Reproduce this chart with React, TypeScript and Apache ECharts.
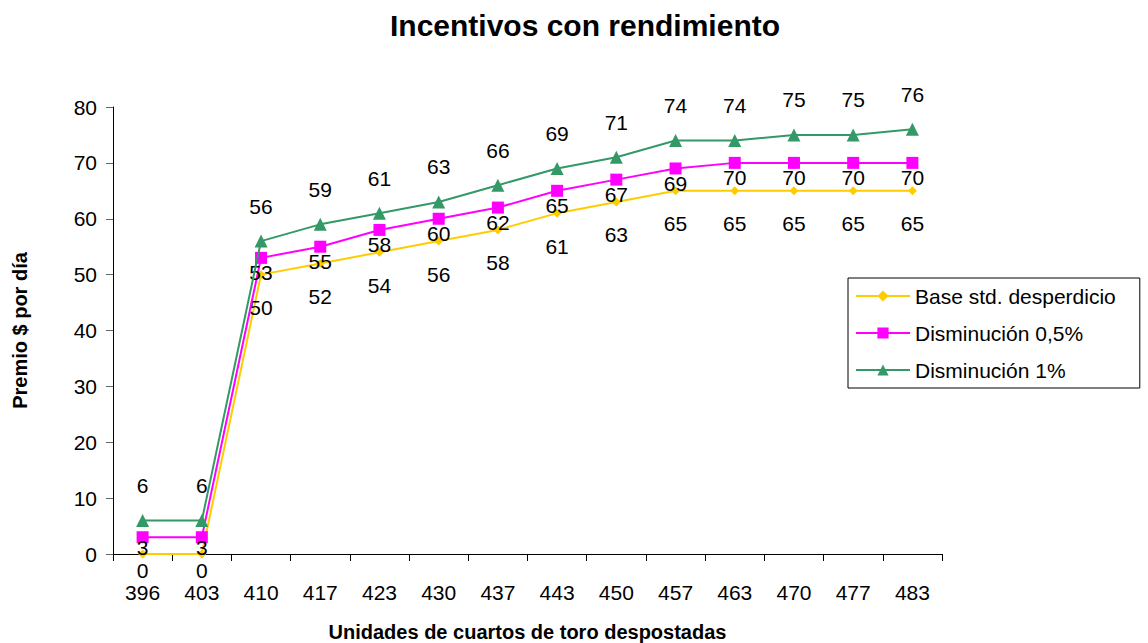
import React, { useEffect, useRef } from "react";
import * as echarts from "echarts";

// Units of bull quarters processed (category axis)
const unidades = ["396", "403", "410", "417", "423", "430", "437", "443", "450", "457", "463", "470", "477", "483"];

// Daily bonus ($) per scenario
const baseStd = [0, 0, 50, 52, 54, 56, 58, 61, 63, 65, 65, 65, 65, 65];
const dism05 = [3, 3, 53, 55, 58, 60, 62, 65, 67, 69, 70, 70, 70, 70];
const dism1 = [6, 6, 56, 59, 61, 63, 66, 69, 71, 74, 74, 75, 75, 76];

const FONT = "'Liberation Sans', Arial, sans-serif";

export default function App() {
  const ref = useRef<HTMLDivElement>(null);

  useEffect(() => {
    if (!ref.current) return;
    const chart = echarts.init(ref.current, null, { renderer: "svg" });

    const label = (dy: number) => ({
      show: true,
      position: "inside" as const,
      offset: [0, dy],
      color: "#000",
      fontSize: 21,
      fontFamily: FONT,
    });

    // the two leading points sit near the axis, so their labels hug the marker
    const withLowLabels = (vals: number[], dy: number) =>
      vals.map((v, i) => (i < 2 ? { value: v, label: { offset: [0, dy] } } : v));

    chart.setOption({
      animation: false,
      backgroundColor: "#fff",
      textStyle: { fontFamily: FONT },
      title: {
        text: "Incentivos con rendimiento",
        left: 580,
        top: 5,
        textAlign: "center",
        textStyle: { fontSize: 30, fontWeight: "bold", color: "#000", fontFamily: FONT },
      },
      legend: {
        orient: "vertical",
        left: 848,
        top: 278,
        padding: [7, 24, 7, 7],
        itemWidth: 54,
        itemHeight: 14,
        itemGap: 15,
        borderColor: "#000",
        borderWidth: 1,
        backgroundColor: "#fff",
        textStyle: { fontSize: 21, lineHeight: 22, color: "#000", fontFamily: FONT },
        data: ["Base std. desperdicio", "Disminución 0,5%", "Disminución 1%"],
      },
      grid: { left: 113, right: 206, top: 107, bottom: 89, containLabel: false, outerBoundsMode: "none" },
      xAxis: {
        type: "category",
        data: unidades,
        boundaryGap: true,
        name: "Unidades de cuartos de toro despostadas",
        nameLocation: "middle",
        nameGap: 68,
        nameTextStyle: { fontSize: 20, fontWeight: "bold", color: "#000", fontFamily: FONT },
        axisLine: { show: true, lineStyle: { color: "#000", width: 1 } },
        axisTick: { show: true, interval: 0, length: 7, lineStyle: { color: "#000" } },
        axisLabel: { fontSize: 21, color: "#000", margin: 28, interval: 0, fontFamily: FONT },
        splitLine: { show: false },
      },
      yAxis: {
        type: "value",
        min: 0,
        max: 80,
        interval: 10,
        name: "Premio $ por día",
        nameLocation: "middle",
        nameGap: 83,
        nameTextStyle: { fontSize: 20, fontWeight: "bold", color: "#000", fontFamily: FONT },
        axisLine: { show: true, lineStyle: { color: "#000", width: 1 } },
        axisTick: { show: true, length: 7, lineStyle: { color: "#666" } },
        axisLabel: { fontSize: 21, color: "#000", margin: 16, fontFamily: FONT },
        splitLine: { show: false },
      },
      series: [
        {
          name: "Base std. desperdicio",
          type: "line",
          data: withLowLabels(baseStd, 16),
          symbol: "diamond",
          symbolSize: 9,
          color: "#FFCC00",
          lineStyle: { color: "#FFCC00", width: 2 },
          itemStyle: { color: "#FFCC00" },
          label: label(33),
          z: 2,
        },
        {
          name: "Disminución 0,5%",
          type: "line",
          data: withLowLabels(dism05, 10),
          symbol: "rect",
          symbolSize: 12,
          color: "#FF00FF",
          lineStyle: { color: "#FF00FF", width: 2 },
          itemStyle: { color: "#FF00FF" },
          label: label(15),
          z: 3,
        },
        {
          name: "Disminución 1%",
          type: "line",
          data: dism1,
          symbol: "triangle",
          symbolSize: 13,
          color: "#339966",
          lineStyle: { color: "#339966", width: 2 },
          itemStyle: { color: "#339966" },
          label: label(-35),
          z: 4,
        },
      ],
    });

    return () => chart.dispose();
  }, []);

  return <div ref={ref} style={{ width: 1148, height: 643, position: "absolute", left: 0, top: 0 }} />;
}
